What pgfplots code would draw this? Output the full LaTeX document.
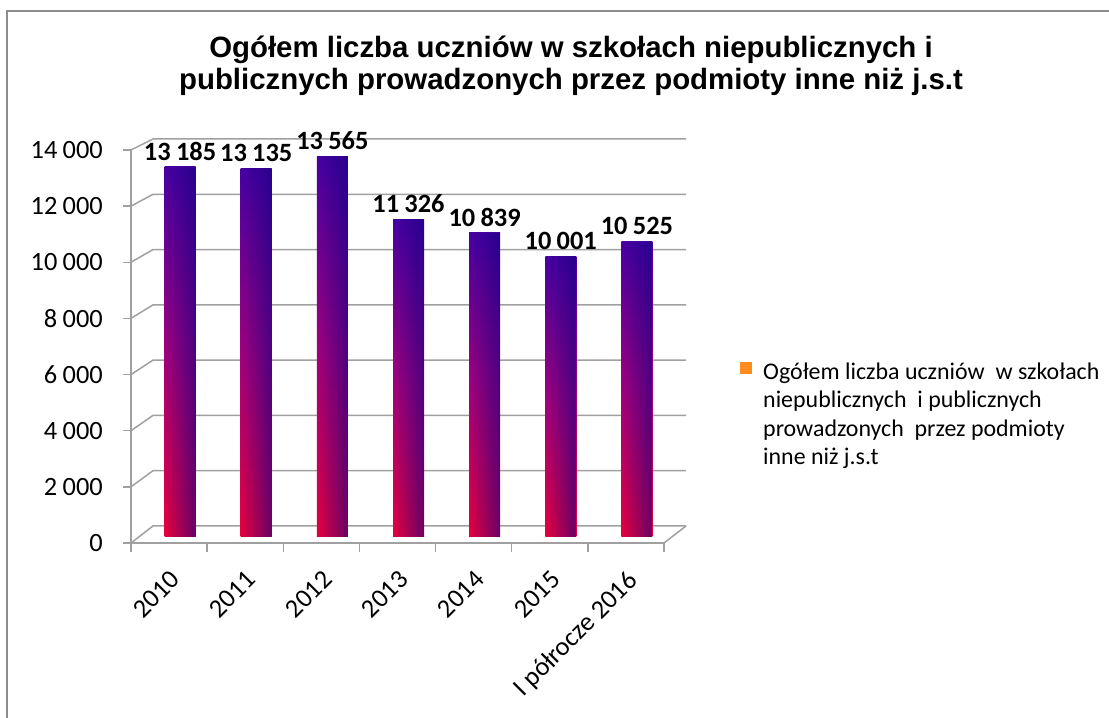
\documentclass[border=0pt]{standalone}
\usepackage{fontspec}
\setmainfont{Carlito}
\newfontfamily\titlefont{Liberation Sans}
\usepackage{pgfplots}
\pgfplotsset{compat=1.18}
\usetikzlibrary{fadings}
\tikzfading[name=rightfade, left color=transparent!100, right color=transparent!0]
\definecolor{gridc}{RGB}{160,160,160}
\definecolor{framec}{RGB}{140,140,140}
\definecolor{bartop}{RGB}{72,0,162}
\definecolor{barmid}{RGB}{160,0,125}
\definecolor{barbot}{RGB}{230,0,62}
\definecolor{barright}{RGB}{20,0,130}
\definecolor{legorange}{RGB}{255,140,30}
\pgfplotsset{
  mybar/.style={ybar, bar width=31bp, draw=none, xshift=11bp, yshift=6bp,
    top color=bartop, bottom color=barbot, middle color=barmid, forget plot,
    nodes near coords,
    every node near coord/.append style={font=\fontsize{26.5}{26.5}\bfseries\selectfont, black, yshift=3bp}},
  myshade/.style={ybar, bar width=31bp, draw=none, xshift=11bp, yshift=6bp,
    fill=barright, fill opacity=0.6, path fading=rightfade, forget plot},
}
\begin{document}
\begin{tikzpicture}[x=1bp,y=1bp]
\path[use as bounding box] (0,0) rectangle (1109,718);
\draw[framec, line width=2bp] (7,-2) -- (7,707) -- (1112,707);
\node[font=\titlefont\bfseries\fontsize{29.5}{32}\selectfont, align=center] at (571,652)
  {Ogółem liczba uczniów w szkołach niepublicznych i\\publicznych prowadzonych przez podmioty inne niż j.s.t};
\begin{axis}[
  at={(131bp,175bp)}, anchor=south west,
  scale only axis, width=533bp, height=393bp,
  xmin=-0.5, xmax=6.5, ymin=0, ymax=14000,
  clip=false,
  axis lines*=left,
  axis line style={gridc, line width=1.5bp},
  ytick={0,2000,...,14000},
  scaled y ticks=false,
  ytick style={gridc, line width=1.5bp},
  tick align=outside,
  major tick length=8bp,
  xtick={0,...,6},
  xticklabels={2010,2011,2012,2013,2014,2015,I półrocze 2016},
  x tick style={draw=none},
  tick label style={font=\fontsize{26.5}{26.5}\selectfont, black},
  xticklabel style={rotate=45, anchor=north east, inner sep=0pt},
  xticklabel shift=18bp,
  yticklabel style={inner sep=0pt, xshift=-20bp},
  /pgf/number format/.cd, fixed, 1000 sep={\hspace{0.2em}}, assume math mode=true,
  /pgfplots/.cd,
  legend style={at={(axis description cs:1.137,0.465)}, anchor=north west, draw=none, fill=none,
    font=\fontsize{24}{24}\selectfont, cells={anchor=base west},
    nodes={inner sep=0pt, text height=17bp, text depth=5bp}, row sep=6.4bp, column sep=11bp},
  legend image code/.code={\fill[#1] (-2bp,5bp) rectangle (10bp,17bp);},
]
\pgfplotsinvokeforeach{0,2,...,14}{
  \draw[gridc, line width=1.5bp] (axis cs:-0.5,#1000) -- ([shift={(22bp,{(17-#1*6/14)*1bp})}]axis cs:-0.5,#1000)
     -- ([shift={(22bp,{(17-#1*6/14)*1bp})}]axis cs:6.5,#1000);
}
\draw[gridc, line width=1.5bp] (axis cs:6.5,0) -- ([shift={(22bp,17bp)}]axis cs:6.5,0);
\pgfplotsinvokeforeach{-0.5,0.5,...,6.5}{
  \draw[gridc, line width=1.5bp] (axis cs:#1,0) -- ([shift={(0bp,-9bp)}]axis cs:#1,0);
}
\addplot[mybar] coordinates {(0,13185)};
\addplot[myshade] coordinates {(0,13185)};
\addplot[mybar] coordinates {(1,13135)};
\addplot[myshade] coordinates {(1,13135)};
\addplot[mybar] coordinates {(2,13565)};
\addplot[myshade] coordinates {(2,13565)};
\addplot[mybar] coordinates {(3,11326)};
\addplot[myshade] coordinates {(3,11326)};
\addplot[mybar] coordinates {(4,10839)};
\addplot[myshade] coordinates {(4,10839)};
\addplot[mybar] coordinates {(5,10001)};
\addplot[myshade] coordinates {(5,10001)};
\addplot[mybar] coordinates {(6,10525)};
\addplot[myshade] coordinates {(6,10525)};
\addlegendimage{fill=legorange, draw=none}
\addlegendentry{Ogółem liczba uczniów\ \ w szkołach}
\addlegendimage{empty legend}
\addlegendentry{niepublicznych\ \ i publicznych}
\addlegendimage{empty legend}
\addlegendentry{prowadzonych\ \ przez podmioty}
\addlegendimage{empty legend}
\addlegendentry{inne niż j.s.t}
\end{axis}
\end{tikzpicture}
\end{document}
